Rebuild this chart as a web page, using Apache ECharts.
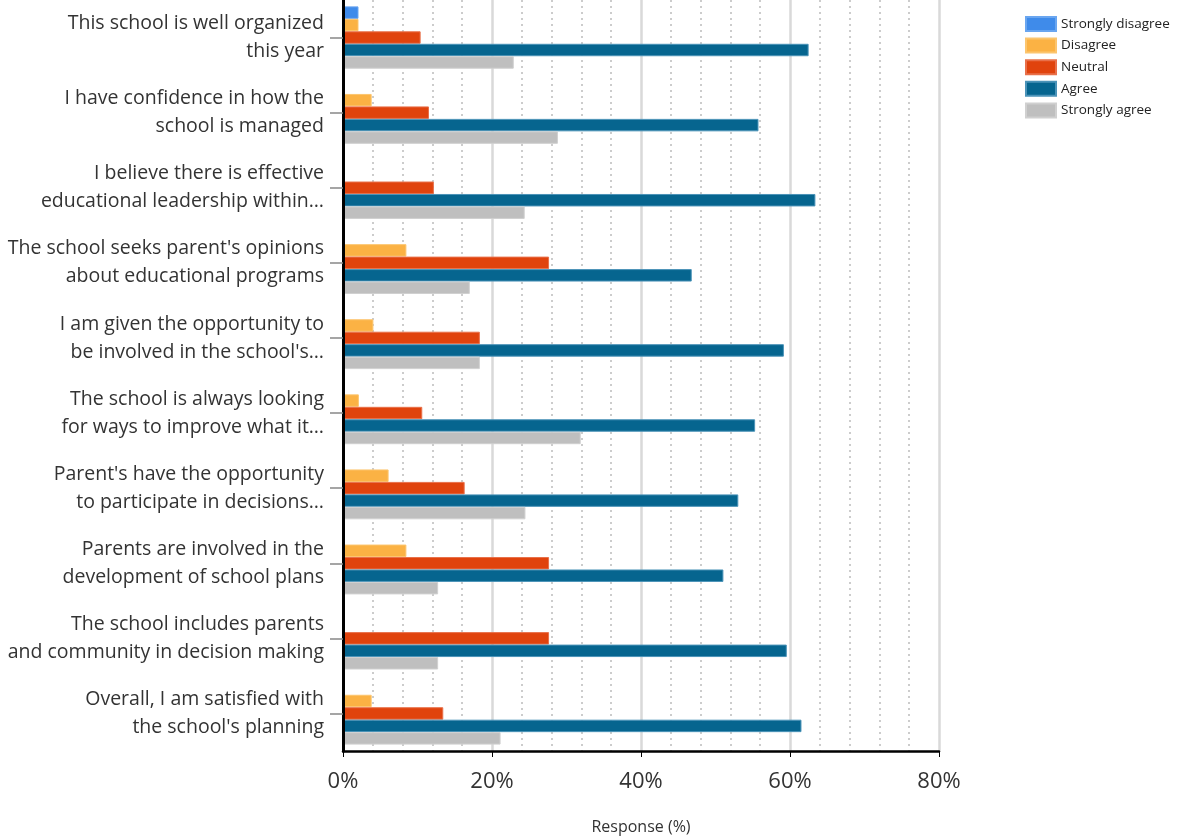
<!DOCTYPE html>
<html><head><meta charset="utf-8">
<script src="https://cdn.jsdelivr.net/npm/echarts@6/dist/echarts.min.js"></script>
<style>html,body{margin:0;padding:0;background:#fff}#c{width:1181px;height:840px}</style>
</head><body><div id="c"></div>
<script>
const categories = [
  "This school is well organized\nthis year",
  "I have confidence in how the\nschool is managed",
  "I believe there is effective\neducational leadership within…",
  "The school seeks parent's opinions\nabout educational programs",
  "I am given the opportunity to\nbe involved in the school's…",
  "The school is always looking\nfor ways to improve what it…",
  "Parent's have the opportunity\nto participate in decisions…",
  "Parents are involved in the\ndevelopment of school plans",
  "The school includes parents\nand community in decision making",
  "Overall, I am satisfied with\nthe school's planning"
];
const seriesNames = ["Strongly disagree", "Disagree", "Neutral", "Agree", "Strongly agree"];
const stronglyDisagree = [2.08, null, null, null, null, null, null, null, null, null];
const disagree = [2.08, 3.85, null, 8.51, 4.08, 2.13, 6.12, 8.51, null, 3.85];
const neutral = [10.42, 11.54, 12.20, 27.66, 18.37, 10.64, 16.33, 27.66, 27.66, 13.46];
const agree = [62.50, 55.77, 63.41, 46.81, 59.18, 55.32, 53.06, 51.06, 59.57, 61.54];
const stronglyAgree = [22.92, 28.85, 24.39, 17.02, 18.37, 31.91, 24.49, 12.77, 12.77, 21.15];
const xTicks = [0, 20, 40, 60, 80];

const colors = ["#3f8bea", "#fbb244", "#e0430d", "#06658f", "#bfbfbf"];
const borders = ["#6aa6f0", "#fcc56e", "#e8704a", "#4b93b8", "#d0d0d0"];
const dataSets = [stronglyDisagree, disagree, neutral, agree, stronglyAgree];

const chart = echarts.init(document.getElementById('c'), null, {renderer: 'canvas'});
chart.setOption({
  animation: false,
  backgroundColor: '#fff',
  grid: {left: 343, right: 242, top: 0, bottom: 85, containLabel: false},
  legend: {
    orient: 'vertical', left: 1020, top: 11,
    itemWidth: 30, itemHeight: 14, itemGap: 5.6, icon: 'rect',
    textStyle: {fontFamily: 'Open Sans', fontSize: 13.5, color: '#222'},
    data: seriesNames
  },
  xAxis: {
    type: 'value', min: xTicks[0], max: xTicks[xTicks.length - 1], interval: 20,
    name: 'Response (%)', nameLocation: 'middle', nameGap: 68,
    nameTextStyle: {fontFamily: 'Open Sans', fontSize: 16, color: '#333'},
    z: 1,
    axisLine: {show: true, lineStyle: {color: '#000', width: 2.5}},
    axisTick: {show: true, length: 6, lineStyle: {color: '#000', width: 1}},
    axisLabel: {formatter: '{value}%', fontFamily: 'Open Sans', fontSize: 22, color: '#333', margin: 20},
    splitLine: {show: true, lineStyle: {color: '#d9d9d9', width: 2.5}},
    minorTick: {show: false, splitNumber: 5},
    minorSplitLine: {show: true, lineStyle: {color: '#cccccc', width: 2, type: [2, 4]}}
  },
  yAxis: {
    type: 'category', data: categories, inverse: true, z: 10,
    axisLine: {show: true, lineStyle: {color: '#000', width: 3}},
    axisTick: {show: true, alignWithLabel: true, length: 13, lineStyle: {color: '#888', width: 1.5}},
    axisLabel: {fontFamily: 'Open Sans', fontSize: 19.5, lineHeight: 28, color: '#333', margin: 19, align: 'right'},
    splitLine: {show: false}
  },
  series: seriesNames.map((n, i) => ({
    name: n, type: 'bar', data: dataSets[i],
    barGap: '0%', barCategoryGap: '17%',
    itemStyle: {color: colors[i], borderColor: borders[i], borderWidth: 1}
  }))
});
</script></body></html>
